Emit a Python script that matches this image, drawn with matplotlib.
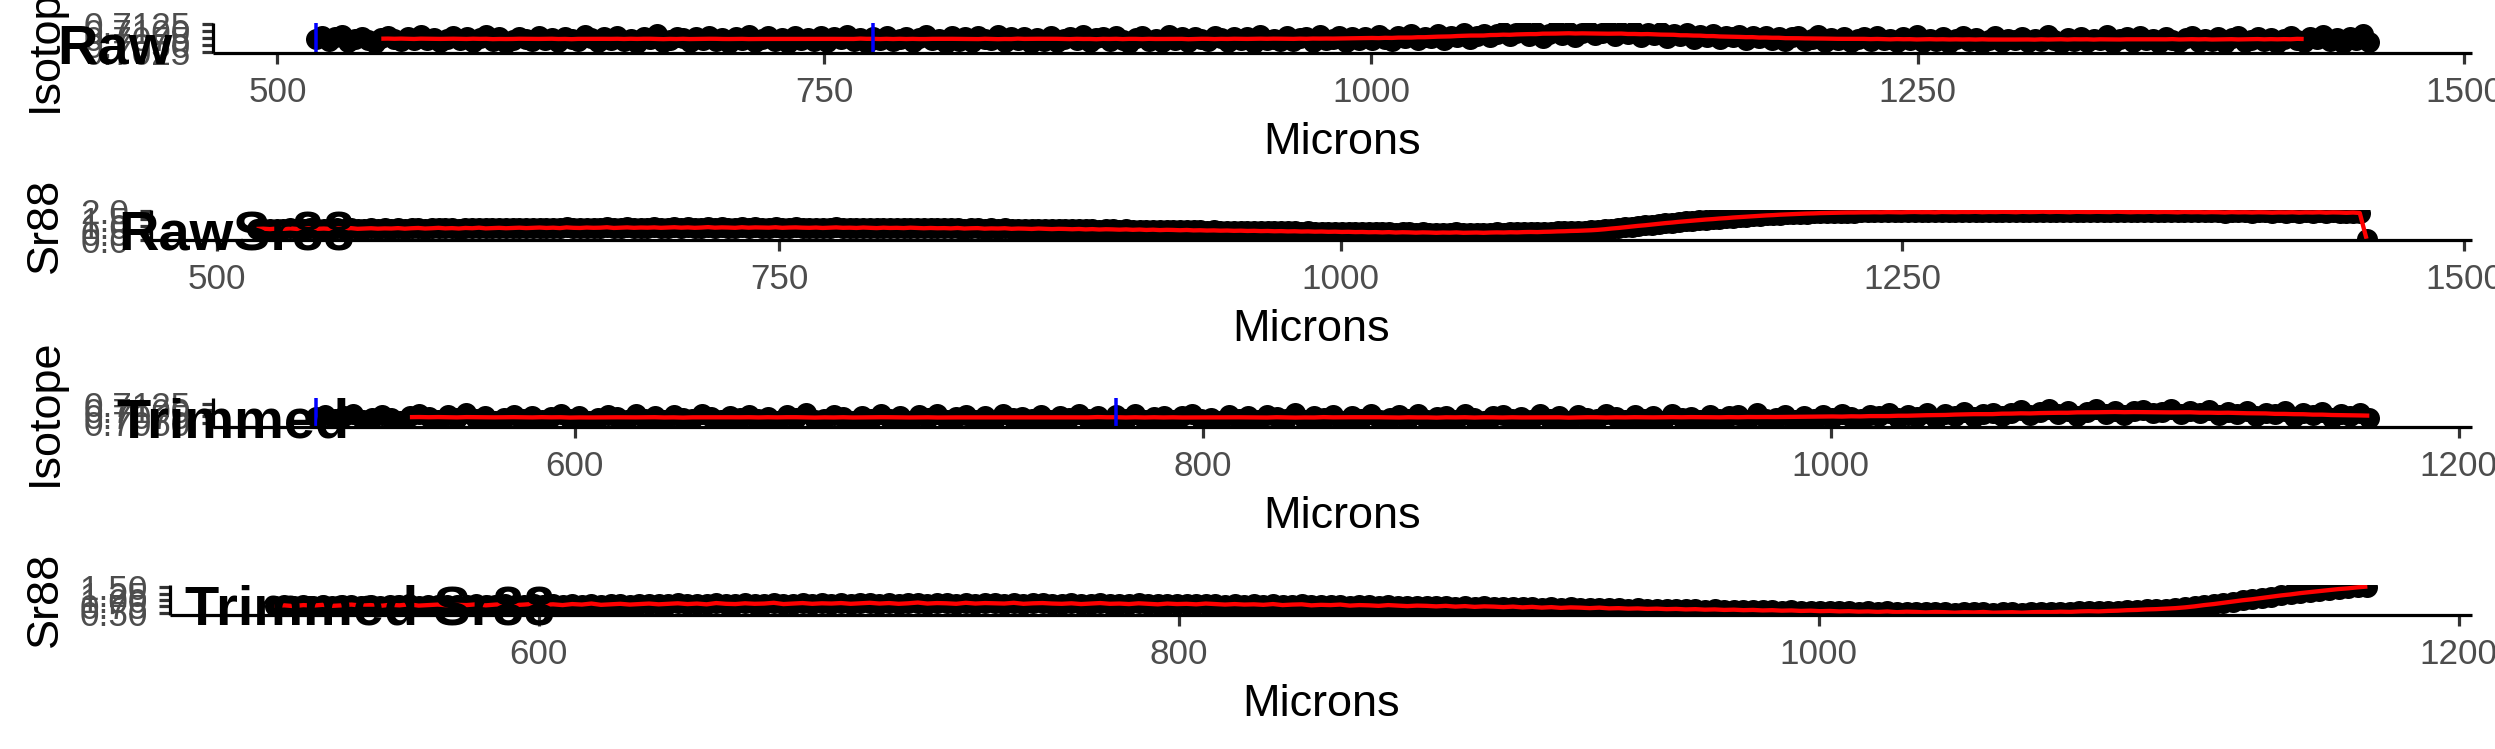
import numpy as np
import pandas as pd
import matplotlib
matplotlib.use("Agg")
import matplotlib.pyplot as plt
from matplotlib.ticker import FixedLocator, FormatStrFormatter

plt.rcParams['font.family'] = ['Liberation Sans', 'DejaVu Sans']

# ---------------- data ----------------
MICRON_START = 517.5
MICRON_STEP = 3.0
TRIM_END = 1172.0
SELECTION_LINES = [517.5, 772.5]

# 87Sr/86Sr ratio, stored as (ratio - 0.7) x 10^4
isotope_e4 = [
    73, 82, 65, 77, 86, 61, 70, 80, 68, 58, 76, 84, 72, 63, 79, 69, 87, 66, 75, 59,
    71, 81, 67, 78, 62, 74, 85, 64, 77, 57, 69, 80, 73, 63, 83, 66, 76, 60, 79, 70,
    65, 86, 74, 61, 78, 68, 82, 64, 73, 57, 79, 71, 88, 62, 67, 80, 74, 59, 77, 67,
    83, 65, 75, 56, 79, 69, 85, 62, 72, 81, 63, 76, 58, 84, 68, 74, 64, 82, 60, 78,
    70, 86, 64, 75, 57, 80, 67, 83, 63, 73, 78, 60, 76, 85, 66, 71, 56, 81, 65, 77,
    62, 82, 72, 67, 87, 60, 77, 69, 80, 58, 75, 64, 84, 61, 71, 79, 66, 86, 61, 74,
    78, 63, 83, 68, 56, 76, 81, 65, 72, 60, 85, 67, 77, 59, 80, 70, 64, 84, 74, 62,
    80, 66, 77, 58, 86, 69, 73, 63, 82, 65, 75, 79, 60, 87, 67, 71, 81, 62, 77, 66,
    79, 69, 85, 72, 64, 82, 76, 88, 68, 80, 74, 90, 67, 84, 78, 93, 72, 83, 89, 77,
    88, 99, 81, 94, 103, 84, 96, 76, 91, 105, 86, 98, 80, 95, 101, 87, 92, 106, 83, 96,
    89, 101, 80, 93, 86, 97, 76, 90, 83, 95, 73, 87, 80, 91, 71, 84, 77, 87, 69, 81,
    74, 84, 68, 79, 63, 77, 82, 65, 72, 85, 61, 75, 69, 80, 59, 71, 78, 64, 83, 67,
    72, 61, 79, 67, 85, 59, 72, 65, 78, 56, 70, 81, 63, 74, 58, 68, 84, 62, 73, 67,
    78, 60, 71, 64, 86, 69, 55, 75, 63, 80, 60, 72, 67, 87, 58, 70, 77, 62, 82, 66,
    73, 57, 80, 68, 62, 76, 84, 59, 71, 65, 78, 56, 74, 83, 61, 69, 79, 64, 75, 58,
    72, 82, 67, 61, 78, 70, 86, 63, 75, 57, 80, 67, 88, 62,
]

# Sr88 signal (V)
sr88 = [
    0.77, 0.79, 0.76, 0.80, 0.78, 0.81, 0.77, 0.79, 0.82, 0.78, 0.80, 0.77, 0.81, 0.79, 0.83, 0.78, 0.80, 0.82, 0.79, 0.81,
    0.80, 0.83, 0.79, 0.82, 0.84, 0.80, 0.82, 0.85, 0.81, 0.83, 0.80, 0.84, 0.82, 0.86, 0.81, 0.83, 0.85, 0.82, 0.84, 0.86,
    0.83, 0.85, 0.87, 0.84, 0.86, 0.83, 0.88, 0.85, 0.84, 0.87, 0.85, 0.86, 0.89, 0.84, 0.86, 0.88, 0.85, 0.87, 0.86, 0.88,
    0.85, 0.87, 0.89, 0.86, 0.88, 0.85, 0.87, 0.90, 0.86, 0.88, 0.87, 0.85, 0.89, 0.86, 0.88, 0.87, 0.86, 0.89, 0.85, 0.87,
    0.88, 0.86, 0.85, 0.87, 0.84, 0.86, 0.88, 0.85, 0.86, 0.84, 0.87, 0.85, 0.83, 0.86, 0.84, 0.85, 0.83, 0.86, 0.84, 0.82,
    0.84, 0.82, 0.83, 0.81, 0.84, 0.80, 0.82, 0.83, 0.79, 0.81, 0.80, 0.82, 0.78, 0.80, 0.79, 0.77, 0.80, 0.78, 0.76, 0.78,
    0.77, 0.75, 0.77, 0.74, 0.76, 0.73, 0.75, 0.74, 0.72, 0.74, 0.71, 0.73, 0.70, 0.72, 0.69, 0.71, 0.70, 0.68, 0.70, 0.67,
    0.68, 0.66, 0.67, 0.65, 0.66, 0.64, 0.65, 0.63, 0.64, 0.62, 0.63, 0.61, 0.62, 0.60, 0.61, 0.59, 0.60, 0.58, 0.59, 0.57,
    0.58, 0.56, 0.57, 0.55, 0.56, 0.54, 0.55, 0.53, 0.55, 0.52, 0.54, 0.53, 0.51, 0.53, 0.52, 0.50, 0.52, 0.51, 0.53, 0.50,
    0.51, 0.52, 0.50, 0.52, 0.53, 0.52, 0.54, 0.53, 0.55, 0.56, 0.55, 0.57, 0.58, 0.60, 0.61, 0.63, 0.64, 0.66, 0.68, 0.71,
    0.75, 0.80, 0.84, 0.89, 0.94, 0.99, 1.03, 1.08, 1.13, 1.18, 1.22, 1.27, 1.31, 1.35, 1.39, 1.43, 1.46, 1.50, 1.53, 1.57,
    1.60, 1.63, 1.66, 1.69, 1.72, 1.74, 1.77, 1.79, 1.81, 1.83, 1.85, 1.86, 1.88, 1.89, 1.90, 1.91, 1.92, 1.92, 1.93, 1.93,
    1.94, 1.93, 1.95, 1.94, 1.93, 1.95, 1.96, 1.94, 1.95, 1.93, 1.96, 1.95, 1.94, 1.96, 1.95, 1.97, 1.94, 1.96, 1.95, 1.97,
    1.96, 1.94, 1.97, 1.95, 1.96, 1.98, 1.95, 1.97, 1.96, 1.94, 1.97, 1.96, 1.95, 1.97, 1.96, 1.95, 1.98, 1.96, 1.94, 1.96,
    1.95, 1.97, 1.94, 1.96, 1.95, 1.93, 1.96, 1.94, 1.95, 1.93, 1.95, 1.94, 1.92, 1.95, 1.93, 1.94, 1.92, 1.94, 1.93, 1.91,
    1.93, 1.92, 1.94, 1.91, 1.93, 1.92, 1.94, 1.91, 1.93, 1.92, 1.90, 1.92, 1.89, 0.08,
]

panel_labels = ["Raw", "RawSr88", "Trimmed", "Trimmed Sr88"]
y_titles = ["Isotope", "Sr88", "Isotope", "Sr88"]
x_title = "Microns"
iso_ticks_raw = [0.7025, 0.7050, 0.7075, 0.7100, 0.7125]
sr_ticks_raw = [0.0, 0.5, 1.0, 1.5, 2.0]
iso_ticks_trim = [0.7050, 0.7075, 0.7100, 0.7125]
sr_ticks_trim = [0.50, 0.75, 1.00, 1.25, 1.50]
x_ticks_raw = [500, 750, 1000, 1250, 1500]
x_ticks_trim = [600, 800, 1000, 1200]

# -------------- derived series --------------
microns = MICRON_START + MICRON_STEP * np.arange(len(sr88))
isotope = 0.7 + np.array(isotope_e4) * 1e-4
sr = np.array(sr88)
iso_smooth = pd.Series(isotope).rolling(21, center=True).mean().to_numpy()
trim = microns <= TRIM_END

# -------------- figure --------------
W, H = 2495, 749
DPI = 100
fig = plt.figure(figsize=(W / DPI, H / DPI), dpi=DPI)
PX = 72.0 / DPI  # points per pixel

ROW_H = H / 4.0
panel_left = [213, 151, 213, 170]
panel_right = 2472

tick_fs = 35 * PX
title_fs = 45 * PX
label_fs = 56 * PX
marker_px = 21

panels = [
    dict(x=microns, y=isotope, line_x=microns, line_y=iso_smooth, vlines=True,
         ylim=(0.70195, 0.71305), yticks=iso_ticks_raw, fmt='%.4f', xticks=x_ticks_raw),
    dict(x=microns, y=sr, line_x=microns, line_y=sr, vlines=False,
         ylim=(-0.02, 2.08), yticks=sr_ticks_raw, fmt='%.1f', xticks=x_ticks_raw),
    dict(x=microns[trim], y=isotope[trim], line_x=microns[trim], line_y=iso_smooth[trim], vlines=True,
         ylim=(0.7032, 0.7149), yticks=iso_ticks_trim, fmt='%.4f', xticks=x_ticks_trim),
    dict(x=microns[trim], y=sr[trim], line_x=microns[trim], line_y=sr[trim], vlines=False,
         ylim=(0.42, 1.60), yticks=sr_ticks_trim, fmt='%.2f', xticks=x_ticks_trim),
]

for r, p in enumerate(panels):
    top = r * ROW_H + 23
    bot = r * ROW_H + 53
    left = panel_left[r]
    ax = fig.add_axes([left / W, 1 - bot / H, (panel_right - left) / W, (bot - top) / H])
    ax.set_facecolor('none')
    ax.scatter(p['x'], p['y'], s=(marker_px * PX) ** 2, c='black', linewidths=0, zorder=2)
    ax.plot(p['line_x'], p['line_y'], color='#FF0000', lw=4.3 * PX, zorder=3,
            solid_capstyle='butt')
    if p['vlines']:
        for v in SELECTION_LINES:
            ax.axvline(v, color='#0000FF', lw=3.5 * PX, zorder=4)
    lo, hi = np.min(p['x']), np.max(p['x'])
    pad = 0.05 * (hi - lo)
    ax.set_xlim(lo - pad, hi + pad)
    ax.set_ylim(*p['ylim'])
    ax.xaxis.set_major_locator(FixedLocator(p['xticks']))
    ax.yaxis.set_major_locator(FixedLocator(p['yticks']))
    ax.yaxis.set_major_formatter(FormatStrFormatter(p['fmt']))
    for s in ['top', 'right']:
        ax.spines[s].set_visible(False)
    for s in ['left', 'bottom']:
        ax.spines[s].set_color('black')
        ax.spines[s].set_linewidth(3.2 * PX)
        ax.spines[s].set_zorder(5)
        ax.spines[s].set_capstyle('butt')
    ax.tick_params(axis='both', which='major', direction='out', length=11 * PX,
                   width=3.2 * PX, color='#333333', labelcolor='#4D4D4D',
                   labelsize=tick_fs)
    ax.tick_params(axis='x', pad=12 * PX)
    ax.tick_params(axis='y', pad=11 * PX)

    cy = (top + bot) / 2.0
    fig.text(57 / W, 1 - cy / H, y_titles[r], rotation=90, rotation_mode='anchor',
             ha='center', va='baseline', fontsize=title_fs, color='black')
    cx = (left + panel_right) / 2.0
    fig.text(cx / W, 1 - (r * ROW_H + 154) / H, x_title, ha='center', va='baseline',
             fontsize=title_fs, color='black')

fig.canvas.draw()
renderer = fig.canvas.get_renderer()
for r, lab in enumerate(panel_labels):
    t = fig.text(0, 1 - (r * ROW_H + 63) / H, lab, ha='left', va='baseline',
                 fontsize=label_fs, fontweight='bold', color='black', zorder=10)
    bb = t.get_window_extent(renderer)
    t.set_x(0.5 * bb.width / W)

fig.savefig('out.png', dpi=DPI)
